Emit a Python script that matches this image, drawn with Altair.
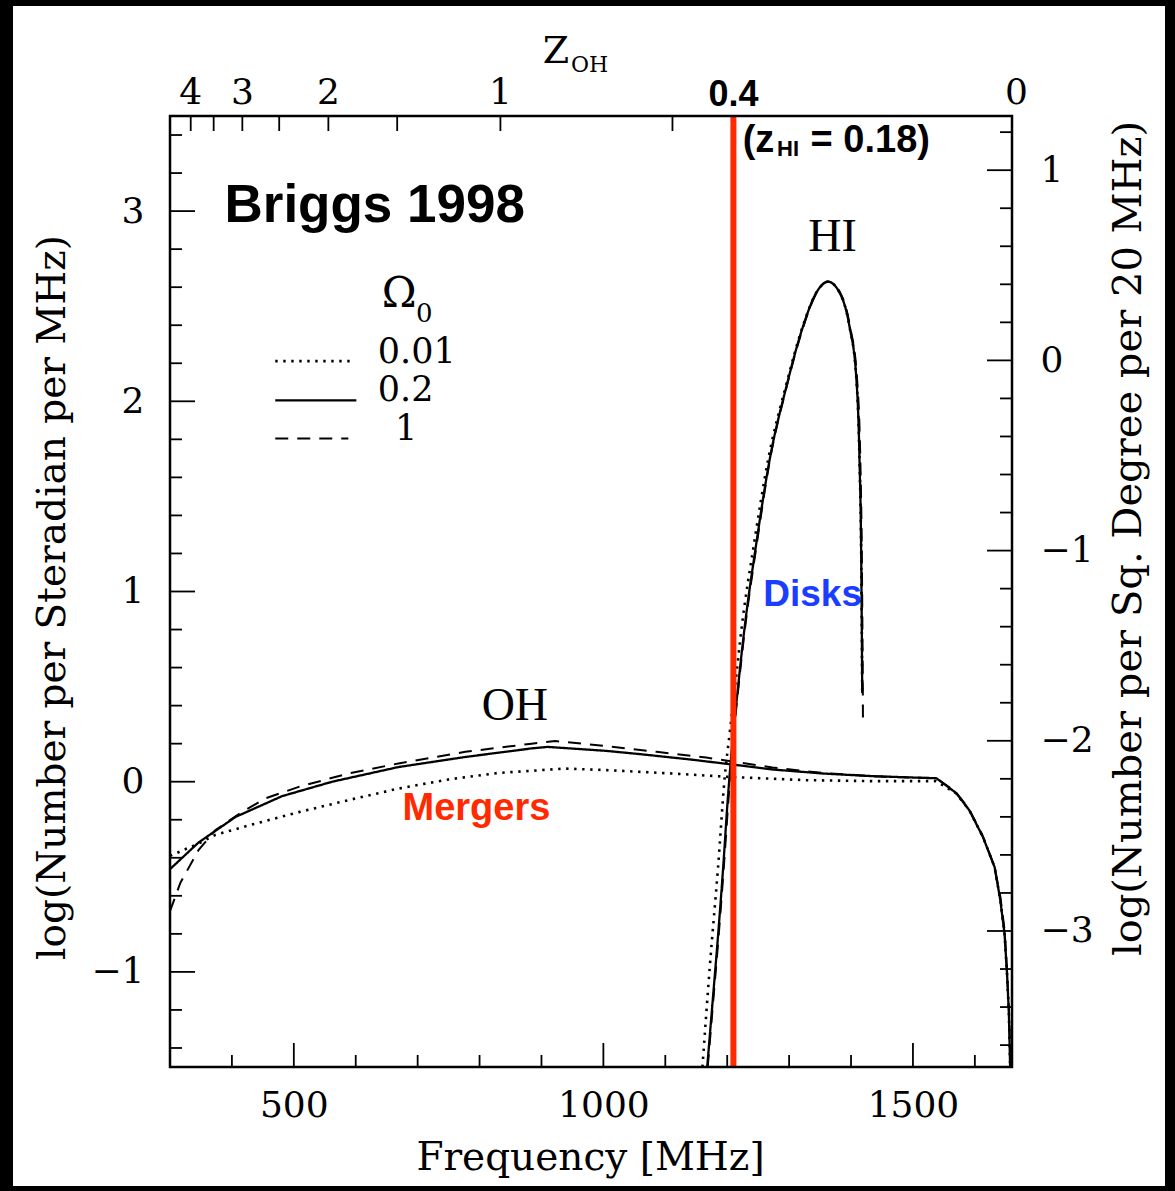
import altair as alt
import pandas as pd

# ---------------------------------------------------------------------------
# Constants
# ---------------------------------------------------------------------------
OH_REST = 1667.359          # OH main line rest frequency [MHz]
Y_OFFSET = 2.2151           # log(deg^2 per sr) - log(20 MHz): left -> right axis
W, H = 842, 951             # plot area in pixels

SERIF = "DejaVu Serif"
TIMES = "Liberation Serif"
SANS = "Liberation Sans"
RED = "#FF2A00"
BLUE = "#1A3DFF"

# ---------------------------------------------------------------------------
# OH megamaser ("Mergers") counts, log N per sr per MHz, one list per Omega_0
# ---------------------------------------------------------------------------
oh_f_001 = [300, 346, 373, 427, 508, 588, 669, 750, 830, 938, 1005, 1112, 1204,
            1328, 1435, 1537, 1570, 1591, 1613, 1632, 1641, 1648, 1652, 1655, 1657]
oh_y_001 = [-0.39, -0.325, -0.28, -0.23, -0.16, -0.097, -0.036, 0.012, 0.046, 0.069,
            0.061, 0.043, 0.025, 0.008, 0.003, 0.003, -0.062, -0.15, -0.29, -0.45,
            -0.62, -0.8, -1.01, -1.22, -1.5]

oh_f_02 = [300, 346, 406, 481, 562, 669, 777, 884, 910, 1005, 1059, 1140, 1204,
           1274, 1355, 1435, 1538, 1570, 1591, 1613, 1632, 1641, 1648, 1652, 1655, 1657]
oh_y_02 = [-0.46, -0.32, -0.185, -0.076, 0.0, 0.077, 0.13, 0.175, 0.183, 0.162,
           0.145, 0.117, 0.092, 0.064, 0.043, 0.029, 0.018, -0.06, -0.15, -0.29,
           -0.45, -0.62, -0.8, -1.01, -1.22, -1.5]

oh_f_1 = [300, 317, 346, 373, 416, 454, 508, 588, 669, 777, 884, 922, 1005, 1086,
          1166, 1220, 1273, 1354, 1435, 1538, 1568, 1590, 1612, 1631, 1641, 1648,
          1652, 1655, 1658]
oh_y_1 = [-0.68, -0.53, -0.36, -0.255, -0.16, -0.088, -0.027, 0.043, 0.096, 0.157,
          0.2, 0.214, 0.187, 0.157, 0.127, 0.101, 0.075, 0.046, 0.029, 0.018,
          -0.05, -0.14, -0.28, -0.44, -0.6, -0.78, -1.0, -1.2, -1.5]

# ---------------------------------------------------------------------------
# HI 21 cm ("Disks") counts
# ---------------------------------------------------------------------------
hi_f_001 = [1160, 1171.8, 1185.2, 1196, 1204, 1212.1, 1223.4, 1243.5, 1266, 1294.4,
            1321.8, 1343.9, 1362.6, 1381.5, 1397.6, 1408.4, 1413.7, 1416.5, 1418.1]
hi_y_001 = [-1.5, -0.976, -0.45, 0.024, 0.255, 0.482, 0.813, 1.255, 1.692, 2.076,
            2.392, 2.571, 2.629, 2.571, 2.392, 2.129, 1.692, 1.166, 0.466]

hi_f_02 = [1167.7, 1176.6, 1185.5, 1193.5, 1200.8, 1207.3, 1215.3, 1228.2, 1247.1,
           1268.5, 1295.5, 1322.3, 1343.9, 1362.6, 1381.5, 1397.6, 1408.4, 1413.7,
           1416.5, 1418.1]
hi_y_02 = [-1.5, -1.15, -0.797, -0.45, -0.097, 0.166, 0.429, 0.813, 1.255, 1.692,
           2.076, 2.392, 2.571, 2.629, 2.571, 2.392, 2.129, 1.692, 1.166, 0.466]

hi_f_1 = [1168.5, 1177.5, 1186.5, 1194.5, 1202, 1208, 1216, 1229, 1248, 1269, 1296,
          1323, 1344.5, 1363, 1382.5, 1398.5, 1409.5, 1415, 1417.5, 1418.8, 1419.3]
hi_y_1 = [-1.5, -1.15, -0.797, -0.45, -0.097, 0.166, 0.429, 0.813, 1.255, 1.692,
          2.076, 2.392, 2.571, 2.629, 2.571, 2.392, 2.129, 1.692, 1.166, 0.6, 0.31]

# survey marker: HI at z = 0.18
marker_f = [1210]

# ---------------------------------------------------------------------------
# Axis ticks
# ---------------------------------------------------------------------------
x_major = [500, 1000, 1500]
x_minor = [400, 600, 700, 800, 900, 1100, 1200, 1300, 1400, 1600]
y_major = [-1, 0, 1, 2, 3]
y_minor = [round(-1.4 + 0.2 * i, 1) for i in range(25)
           if abs(round(-1.4 + 0.2 * i, 1) % 1) > 1e-6]
yr_major = [-3, -2, -1, 0, 1]
yr_minor = [round(-3.6 + 0.2 * i, 1) for i in range(25)
            if abs(round(-3.6 + 0.2 * i, 1) % 1) > 1e-6]
z_ticks = [4, 3.5, 3, 2.5, 2, 1.5, 1, 0.5]
z_labels = [4, 3, 2, 1, 0]

# legend (Omega_0 key)
omegas = ["0.01", "0.2", "1"]
legend_x1 = [470, 470, 470]
legend_x2 = [591, 601, 588]
legend_y = [2.211, 2.005, 1.805]
legend_text_x = [698.5, 680.6, 681.5]
legend_text_y = [2.203, 2.0, 1.797]

# ---------------------------------------------------------------------------
# Tables
# ---------------------------------------------------------------------------
def series(fs, ys, omega, family):
    return pd.DataFrame({"f": fs, "y": ys, "omega": omega, "series": family + omega})

oh_df = pd.concat([series(oh_f_001, oh_y_001, "0.01", "OH"),
                   series(oh_f_02, oh_y_02, "0.2", "OH"),
                   series(oh_f_1, oh_y_1, "1", "OH")])
hi_df = pd.concat([series(hi_f_001, hi_y_001, "0.01", "HI"),
                   series(hi_f_02, hi_y_02, "0.2", "HI"),
                   series(hi_f_1, hi_y_1, "1", "HI")])
legend_df = pd.DataFrame({"omega": omegas, "x1": legend_x1, "x2": legend_x2,
                          "y": legend_y, "tx": legend_text_x, "ty": legend_text_y})

# ---------------------------------------------------------------------------
# Scales and axes
# ---------------------------------------------------------------------------
x_scale = alt.Scale(domain=[300, 1660], nice=False, zero=False)
y_scale = alt.Scale(domain=[-1.5, 3.5], nice=False, zero=False)
yr_scale = alt.Scale(domain=[-1.5 - Y_OFFSET, 3.5 - Y_OFFSET], nice=False, zero=False)
dash_scale = alt.Scale(domain=omegas, range=[[2.4, 5.6], [1, 0], [13, 9]])
width_scale = alt.Scale(domain=omegas, range=[2.6, 2.0, 2.0])

x_axis = alt.Axis(values=x_major, format="d", ticks=False, tickSize=0, domain=False,
                  grid=False, zindex=2,
                  labelFont=SERIF, labelFontSize=36, labelPadding=21, labelFlush=False,
                  labelColor="black", title="Frequency [MHz]", titleFont=SERIF,
                  titleFontSize=39, titleFontWeight="normal", titleColor="black",
                  titleX=420, titleY=90, titleBaseline="middle")
y_axis = alt.Axis(values=y_major, format="d", ticks=False, tickSize=0, domain=False,
                  grid=False, zindex=2,
                  labelFont=SERIF, labelFontSize=36, labelPadding=26, labelFlush=False,
                  labelColor="black",
                  title="log(Number per Steradian per MHz)", titleFont=SERIF,
                  titleFontSize=39, titleFontWeight="normal", titleColor="black",
                  titleAngle=270, titleX=-118, titleY=481, titleBaseline="middle",
                  titleAlign="center")
yr_axis = alt.Axis(orient="right", values=yr_major, format="d", ticks=False, tickSize=0,
                   domain=False, grid=False, zindex=2,
                   labelFont=SERIF, labelFontSize=36,
                   labelPadding=28, labelFlush=False, labelColor="black",
                   title="log(Number per Sq. Degree per 20 MHz)", titleFont=SERIF,
                   titleFontSize=40, titleFontWeight="normal", titleColor="black",
                   titleAngle=270, titleX=116, titleY=422, titleBaseline="middle",
                   titleAlign="center")


def X(field):
    return alt.X(field, type="quantitative", scale=x_scale, axis=x_axis)


def Y(field):
    return alt.Y(field, type="quantitative", scale=y_scale, axis=y_axis)


def text_layer(label, fx, fy, font, size, weight="normal", color="black",
               align="center", baseline="alphabetic"):
    df = pd.DataFrame({"f": [fx], "y": [fy], "t": [label]})
    return alt.Chart(df).mark_text(font=font, fontSize=size, fontWeight=weight,
                                   color=color, align=align, baseline=baseline).encode(
        x=X("f"), y=Y("y"), text="t:N")


# ---------------------------------------------------------------------------
# Layers
# ---------------------------------------------------------------------------
# white page inside the black outer border
background = alt.Chart(pd.DataFrame({"a": [0]})).mark_rect(color="white").encode(
    x=alt.value(-157), x2=alt.value(W + 153), y=alt.value(-110), y2=alt.value(H + 119))

# box around the plot area
frame = alt.Chart(pd.DataFrame({"a": [0]})).mark_rect(
    fill=None, fillOpacity=0, stroke="black", strokeWidth=2.5).encode(
    x=alt.value(0), x2=alt.value(W), y=alt.value(0), y2=alt.value(H))

line_dash = alt.StrokeDash("omega:N", scale=dash_scale, legend=None)
line_width = alt.StrokeWidth("omega:N", scale=width_scale, legend=None)

oh_lines = alt.Chart(oh_df).mark_line(color="black", clip=True,
                                      strokeCap="butt").encode(
    x=X("f"), y=Y("y"), strokeDash=line_dash, strokeWidth=line_width,
    detail="series:N")

hi_lines = alt.Chart(hi_df).mark_line(color="black", clip=True,
                                      interpolate="monotone", strokeCap="butt").encode(
    x=X("f"), y=Y("y"), strokeDash=line_dash, strokeWidth=line_width,
    detail="series:N")

legend_lines = alt.Chart(legend_df).mark_rule(color="black",
                                              strokeCap="butt").encode(
    x=X("x1"), x2="x2", y=Y("y"), strokeDash=line_dash, strokeWidth=line_width)

legend_text = alt.Chart(legend_df).mark_text(font=SERIF, fontSize=35, color="black",
                                             baseline="alphabetic").encode(
    x=X("tx"), y=Y("ty"), text="omega:N")

marker = alt.Chart(pd.DataFrame({"f": marker_f})).mark_rule(color=RED, strokeWidth=6).encode(
    x=X("f"), y=alt.value(0), y2=alt.value(H))

bottom_major = alt.Chart(pd.DataFrame({"f": x_major})).mark_rule(color="black", strokeWidth=1.8).encode(
    x=X("f"), y=alt.value(H), y2=alt.value(H - 24))
bottom_minor = alt.Chart(pd.DataFrame({"f": x_minor})).mark_rule(color="black", strokeWidth=1.8).encode(
    x=X("f"), y=alt.value(H), y2=alt.value(H - 12))
left_major = alt.Chart(pd.DataFrame({"y": y_major})).mark_rule(color="black", strokeWidth=1.8).encode(
    y=Y("y"), x=alt.value(0), x2=alt.value(25))
left_minor = alt.Chart(pd.DataFrame({"y": y_minor})).mark_rule(color="black", strokeWidth=1.8).encode(
    y=Y("y"), x=alt.value(0), x2=alt.value(12))

top_ticks = alt.Chart(pd.DataFrame({"z": z_ticks})).transform_calculate(
    f=f"{OH_REST} / (1 + datum.z)").mark_rule(color="black", strokeWidth=1.8).encode(
    x=X("f"), y=alt.value(0), y2=alt.value(15))
top_labels = alt.Chart(pd.DataFrame({"z": z_labels})).transform_calculate(
    f=f"{OH_REST} / (1 + datum.z)").mark_text(
    font=SERIF, fontSize=36, color="black", baseline="alphabetic").encode(
    x=X("f"), y=alt.value(-12), text="z:Q")
top_marker_label = alt.Chart(pd.DataFrame({"f": marker_f, "t": ["0.4"]})).mark_text(
    font=SANS, fontSize=36, fontWeight="bold", color="black", baseline="alphabetic").encode(
    x=X("f"), y=alt.value(-10), text="t:N")
top_title = alt.Chart(pd.DataFrame({"f": [923.4], "t": ["Z"]})).mark_text(
    font=SERIF, fontSize=38, color="black", baseline="alphabetic").encode(
    x=X("f"), y=alt.value(-53), text="t:N")
top_title_sub = alt.Chart(pd.DataFrame({"f": [947.6], "t": ["OH"]})).mark_text(
    font=SERIF, fontSize=22, color="black", baseline="alphabetic", align="left").encode(
    x=X("f"), y=alt.value(-44), text="t:N")

annotations = [
    text_layer("Briggs 1998", 388, 2.945, SANS, 53, weight="bold", align="left"),
    text_layer("HI", 1370, 2.792, TIMES, 46),
    text_layer("OH", 857, 0.324, TIMES, 46),
    text_layer("Mergers", 795, -0.2026, SANS, 38, weight="bold", color=RED),
    text_layer("Disks", 1338, 0.924, SANS, 37, weight="bold", color=BLUE),
    text_layer("(z", 1225, 3.31, SANS, 38, weight="bold", align="left"),
    text_layer("HI", 1280.5, 3.29, SANS, 22, weight="bold", align="left"),
    text_layer("= 0.18)", 1334.7, 3.31, SANS, 38, weight="bold", align="left"),
    text_layer("\u03a9", 670, 2.497, SERIF, 42),
    text_layer("0", 710.5, 2.418, SERIF, 26),
]

main = alt.layer(
    oh_lines, hi_lines, legend_lines, legend_text, *annotations, marker,
    bottom_major, bottom_minor, left_major, left_minor,
    top_ticks, top_labels, top_marker_label, top_title, top_title_sub,
)

right_major = alt.Chart(pd.DataFrame({"r": yr_major})).mark_rule(color="black", strokeWidth=1.8).encode(
    y=alt.Y("r:Q", scale=yr_scale, axis=yr_axis), x=alt.value(W), x2=alt.value(W - 25))
right_minor = alt.Chart(pd.DataFrame({"r": yr_minor})).mark_rule(color="black", strokeWidth=1.8).encode(
    y=alt.Y("r:Q", scale=yr_scale, axis=yr_axis), x=alt.value(W), x2=alt.value(W - 12))
right = alt.layer(right_major, right_minor)

chart = alt.layer(background, main, right, frame).resolve_scale(y="independent").properties(
    width=W, height=H,
    padding={"left": 170, "top": 116, "right": 163, "bottom": 124},
    autosize=alt.AutoSizeParams(type="none"),
).configure(background="black").configure_view(strokeWidth=0)

chart.save("out.html", embed_options={"renderer": "svg", "actions": False})
